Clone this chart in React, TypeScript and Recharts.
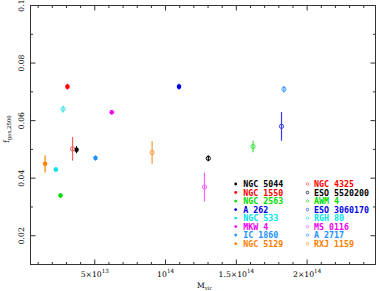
import React from 'react';
import { ScatterChart, Scatter, XAxis, YAxis, ErrorBar } from 'recharts';

// ---- data ----
const clusterNames = [
  'NGC 5044', 'NGC 1550', 'NGC 2563', 'A 262', 'NGC 533', 'MKW 4', 'IC 1860', 'NGC 5129',
  'NGC 4325', 'ESO 5520200', 'AWM 4', 'ESO 3060170', 'RGH 80', 'MS 0116', 'A 2717', 'RXJ 1159',
];
// M_vir in units of 1e13
const mVir = [3.71, 3.07, 2.58, 10.95, 2.25, 6.2, 5.05, 1.49, 3.43, 13.02, 16.18, 18.19, 2.76, 12.75, 18.36, 9.05];
const fGas = [0.0499, 0.0718, 0.034, 0.0718, 0.043, 0.0629, 0.047, 0.045, 0.0502, 0.0469, 0.051, 0.058, 0.064, 0.0369, 0.0709, 0.0489];
const fGasErr = [0.0012, 0.001, 0.0008, 0.001, 0.0008, 0.0008, 0.0009, 0.003, 0.0041, 0.001, 0.002, 0.005, 0.0012, 0.005, 0.0011, 0.004];
const isOpen = [false, false, false, false, false, false, false, false, true, true, true, true, true, true, true, true];

const xMajorTicks = [5, 10, 15, 20];
const xTickLabels: [string, string][] = [['5×10', '13'], ['10', '14'], ['1.5×10', '14'], ['2×10', '14']];
const xMinorTicks = [1, 2, 3, 4, 5, 6, 7, 8, 9, 10, 11, 12, 13, 14, 15, 16, 17, 18, 19, 20, 21, 22, 23, 24];
const yMajorTicks = [0.02, 0.04, 0.06, 0.08, 0.1];
const yTickLabels = ['0.02', '0.04', '0.06', '0.08', '0.1'];
const yMinorTicks = [0.02, 0.03, 0.04, 0.05, 0.06, 0.07, 0.08, 0.09, 0.1];

// ---- styles ----
const markerColors = [
  '#000000', '#ff0000', '#00dd00', '#0000ee', '#00e5e5', '#ee00ee', '#1e90ff', '#ff8000',
  '#ff5a5a', '#000000', '#40e040', '#3a3aee', '#40e0e0', '#ff60ff', '#3a9cff', '#ff9a3a',
];
const textColors = [
  '#000000', '#ff0000', '#00dd00', '#0000ee', '#00e5e5', '#ee00ee', '#1e90ff', '#ff8000',
  '#ff0000', '#000000', '#00dd00', '#0000ee', '#00e5e5', '#ee00ee', '#1e90ff', '#ff8000',
];

const SERIF = 'DejaVu Serif';
const MONO = 'DejaVu Sans Mono';
const AX = '#333333';
// recharts default tickSize (6) + tickMargin (2): tick props sit this far outside the axis line
const OFF = 8;
// plot frame (chart margins + axis sizes)
const FRAME = { left: 30.5, top: 5.5, right: 375.5, bottom: 264.5 };

const majorIdx = (arr: number[], v: number) => arr.findIndex((a) => Math.abs(a - v) < 1e-9);

const renderBottomTick = (p: any) => {
  const { x, payload } = p;
  const ay = p.y - OFF;
  const i = majorIdx(xMajorTicks, payload.value);
  return (
    <g>
      <line x1={x} x2={x} y1={ay} y2={ay - (i >= 0 ? 5 : 2.5)} stroke={AX} strokeWidth={1} />
      {i >= 0 && (
        <text x={x} y={ay + 12.3} textAnchor="middle" fontFamily={SERIF} fontSize={7.7} fill="#000">
          {xTickLabels[i][0]}
          <tspan fontSize={5.6} dy={-3.6}>{xTickLabels[i][1]}</tspan>
        </text>
      )}
    </g>
  );
};

const renderTopTick = (p: any) => {
  const { x, payload } = p;
  const ay = p.y + OFF;
  const i = majorIdx(xMajorTicks, payload.value);
  return <line x1={x} x2={x} y1={ay} y2={ay + (i >= 0 ? 5 : 2.5)} stroke={AX} strokeWidth={1} />;
};

const renderLeftTick = (p: any) => {
  const { y, payload } = p;
  const ax = p.x + OFF;
  const i = majorIdx(yMajorTicks, payload.value);
  const bx = ax - 6.2;
  return (
    <g>
      <line x1={ax} x2={ax + (i >= 0 ? 5 : 2.5)} y1={y} y2={y} stroke={AX} strokeWidth={1} />
      {i >= 0 && (
        <text x={bx} y={y} transform={`rotate(-90 ${bx} ${y})`} textAnchor="middle" fontFamily={SERIF} fontSize={7.7} fill="#000">
          {yTickLabels[i]}
        </text>
      )}
    </g>
  );
};

const renderRightTick = (p: any) => {
  const { y, payload } = p;
  const ax = p.x - OFF;
  const i = majorIdx(yMajorTicks, payload.value);
  return <line x1={ax} x2={ax - (i >= 0 ? 5 : 2.5)} y1={y} y2={y} stroke={AX} strokeWidth={1} />;
};

const makeShape = (color: string, open: boolean) => (props: any) => {
  const { cx, cy } = props;
  if (cx == null || cy == null) return <g />;
  return open ? (
    <circle cx={cx} cy={cy} r={2.1} fill="none" stroke={color} strokeWidth={1} />
  ) : (
    <circle cx={cx} cy={cy} r={2.3} fill={color} stroke="none" />
  );
};

const Legend = () => {
  const rows = 8;
  return (
    <svg width={379} height={291} style={{ position: 'absolute', left: 0, top: 0, pointerEvents: 'none' }}>
      <rect
        x={FRAME.left}
        y={FRAME.top}
        width={FRAME.right - FRAME.left}
        height={FRAME.bottom - FRAME.top}
        fill="none"
        stroke={AX}
        strokeWidth={1}
      />
      {clusterNames.map((n, i) => {
        const col = i < rows ? 0 : 1;
        const row = i % rows;
        const cy = 184 + row * 8.52;
        const mx = col === 0 ? 235.7 : 307.5;
        const tx = col === 0 ? 243.3 : 314;
        return (
          <g key={n}>
            {isOpen[i] ? (
              <circle cx={mx} cy={cy} r={1.3} fill="none" stroke={markerColors[i]} strokeWidth={0.7} />
            ) : (
              <circle cx={mx} cy={cy} r={1.4} fill={markerColors[i]} />
            )}
            <text x={tx} y={cy + 3} fontFamily={MONO} fontSize={8.3} fontWeight="bold" fill={textColors[i]}>
              {n}
            </text>
          </g>
        );
      })}
      <text x={197} y={288} fontFamily={SERIF} fontSize={7.5} fill="#000">
        M<tspan fontSize={5.2} dy={1.8}>vir</tspan>
      </text>
      <text x={9} y={143} transform="rotate(-90 9 143)" fontFamily={SERIF} fontSize={7.7} fill="#000">
        f<tspan fontSize={5.4} dy={1.8}>gas,2500</tspan>
      </text>
    </svg>
  );
};

export default function App() {
  return (
    <div style={{ position: 'absolute', left: 0, top: 0, width: 379, height: 291, background: '#fff' }}>
      <ScatterChart width={379} height={291} margin={{ top: 4.5, right: 2.5, bottom: 0, left: 0 }}>
        <XAxis
          xAxisId={0}
          type="number"
          dataKey="x"
          domain={[0.46, 24.83]}
          ticks={xMinorTicks}
          interval={0}
          height={26.5}
          tickLine={false}
          tick={renderBottomTick}
          stroke={AX}
          strokeWidth={1}
        />
        <XAxis
          xAxisId="top"
          orientation="top"
          type="number"
          dataKey="x"
          domain={[0.46, 24.83]}
          ticks={xMinorTicks}
          interval={0}
          height={1}
          tickLine={false}
          tick={renderTopTick}
          stroke={AX}
          strokeWidth={1}
        />
        <YAxis
          yAxisId={0}
          type="number"
          dataKey="y"
          domain={[0.01, 0.1]}
          ticks={yMinorTicks}
          interval={0}
          width={30.5}
          tickLine={false}
          tick={renderLeftTick}
          stroke={AX}
          strokeWidth={1}
        />
        <YAxis
          yAxisId="right"
          orientation="right"
          type="number"
          dataKey="y"
          domain={[0.01, 0.1]}
          ticks={yMinorTicks}
          interval={0}
          width={1}
          tickLine={false}
          tick={renderRightTick}
          stroke={AX}
          strokeWidth={1}
        />
        <Scatter
          xAxisId="top"
          yAxisId="right"
          data={[{ x: mVir[0], y: fGas[0] }]}
          shape={() => <g />}
          isAnimationActive={false}
          legendType="none"
        />
        {clusterNames.map((n, i) => (
          <Scatter
            key={n}
            name={n}
            xAxisId={0}
            yAxisId={0}
            data={[{ x: mVir[i], y: fGas[i], err: fGasErr[i] }]}
            fill={markerColors[i]}
            shape={makeShape(markerColors[i], isOpen[i])}
            isAnimationActive={false}
          >
            <ErrorBar dataKey="err" direction="y" width={0} stroke={markerColors[i]} strokeWidth={1.2} isAnimationActive={false} />
          </Scatter>
        ))}
      </ScatterChart>
      <Legend />
    </div>
  );
}
